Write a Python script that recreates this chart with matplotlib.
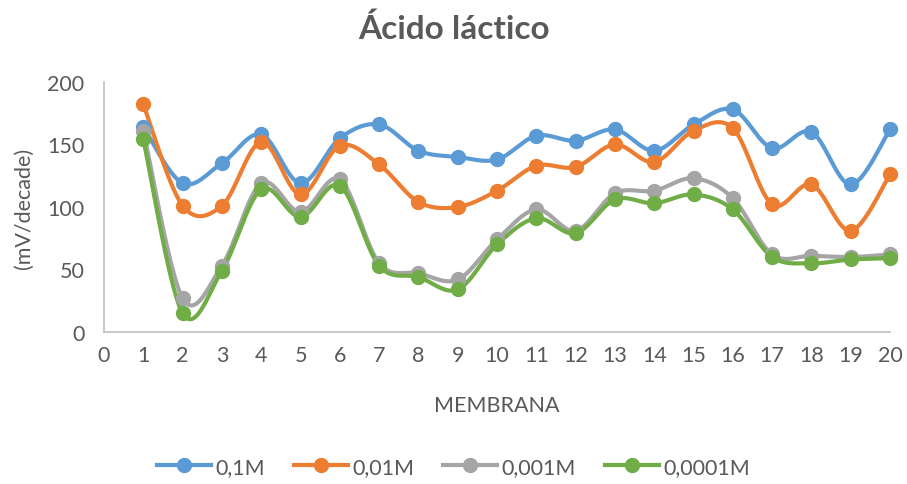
import numpy as np
import matplotlib
matplotlib.use("Agg")
import matplotlib.pyplot as plt
from matplotlib.lines import Line2D

plt.rcParams['font.family'] = ['Lato', 'DejaVu Sans']

membrana = list(range(1, 21))
serie_01 = [164, 119, 135, 158, 119, 155, 166, 145, 140, 138, 157, 153, 162, 145, 166, 178, 147, 160, 118, 162]
serie_001 = [182, 101, 101, 152, 110, 149, 134, 104, 100, 113, 133, 132, 150, 136, 161, 163, 102, 118, 81, 126]
serie_0001 = [161, 27, 53, 119, 96, 122, 55, 47, 42, 74, 98, 81, 111, 113, 123, 107, 62, 61, 60, 62]
serie_00001 = [154, 15, 49, 114, 92, 117, 53, 44, 34, 70, 91, 79, 106, 103, 110, 98, 60, 55, 58, 59]
labels = ["0,1M", "0,01M", "0,001M", "0,0001M"]
colors = ["#5B9BD5", "#ED7D31", "#A5A5A5", "#70AD47"]


def smooth(x, y, n=30):
    """Cubic Bezier smoothing through every point (Catmull-Rom style)."""
    x = np.asarray(x, float)
    y = np.asarray(y, float)
    px = np.concatenate([[x[0]], x, [x[-1]]])
    py = np.concatenate([[y[0]], y, [y[-1]]])
    xs, ys = [], []
    t = np.linspace(0, 1, n)
    for i in range(1, len(px) - 2):
        p0 = np.array([px[i - 1], py[i - 1]])
        p1 = np.array([px[i], py[i]])
        p2 = np.array([px[i + 1], py[i + 1]])
        p3 = np.array([px[i + 2], py[i + 2]])
        c1 = p1 + (p2 - p0) / 6
        c2 = p2 - (p3 - p1) / 6
        b = ((1 - t) ** 3)[:, None] * p1 + (3 * (1 - t) ** 2 * t)[:, None] * c1 \
            + (3 * (1 - t) * t ** 2)[:, None] * c2 + (t ** 3)[:, None] * p2
        xs.extend(b[:, 0])
        ys.extend(b[:, 1])
    return np.array(xs), np.array(ys)


fig = plt.figure(figsize=(9.07, 4.85), dpi=100)
ax = fig.add_axes([0.1147, 0.3134, 0.8666, 0.5155])

series = [serie_01, serie_001, serie_0001, serie_00001]
handles = []
for vals, lab, col in zip(series, labels, colors):
    sx, sy = smooth(membrana, vals)
    ax.plot(sx, sy, color=col, lw=3, solid_capstyle='round', clip_on=False, zorder=2)
    ax.plot(membrana, vals, 'o', color=col, ms=10, clip_on=False, zorder=3)
    handles.append(Line2D([0], [0], color=col, lw=3, marker='o', ms=10))

ax.set_xlim(0, 20)
ax.set_ylim(0, 200)
ax.set_xticks(range(0, 21))
ax.set_yticks(range(0, 201, 50))
for s in ['top', 'right']:
    ax.spines[s].set_visible(False)
for s in ['left', 'bottom']:
    ax.spines[s].set_color('#BFBFBF')
    ax.spines[s].set_linewidth(1.2)
ax.tick_params(axis='both', length=0, labelsize=15.5, colors='#595959')
ax.tick_params(axis='y', pad=14)
ax.tick_params(axis='x', pad=9)
ax.set_xlabel("MEMBRANA", fontsize=15.5, color='#595959', labelpad=22)
ax.set_ylabel("(mV/decade)", fontsize=15.5, color='#595959', labelpad=10)

fig.suptitle("Ácido láctico", fontsize=24, fontweight='bold', color='#595959', y=0.972)

fig.legend(handles, labels, loc='center', bbox_to_anchor=(0.5, 0.035), ncol=4,
           frameon=False, fontsize=15.5, labelcolor='#595959', handlelength=2.5,
           columnspacing=1.35, handletextpad=0.2)

fig.savefig("out.png", dpi=100)
